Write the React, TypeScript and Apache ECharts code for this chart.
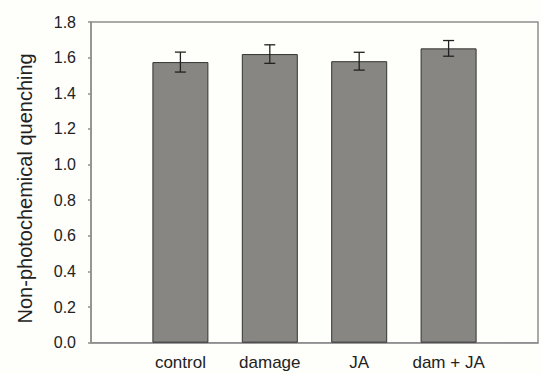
import React, { useEffect, useRef } from "react";
import * as echarts from "echarts";

// Treatments (empty slots at both ends pad the axis)
const categories = ["", "control", "damage", "JA", "dam + JA", ""];
// Mean non-photochemical quenching per treatment
const means = [null, 1.575, 1.62, 1.58, 1.652, null];
// Standard errors
const errors = [null, 0.056, 0.052, 0.05, 0.044, null];
const yTicks = { min: 0, max: 1.8, interval: 0.2 };

export default function App() {
  const ref = useRef<HTMLDivElement>(null);

  useEffect(() => {
    if (!ref.current) return;
    const chart = echarts.init(ref.current, null, { renderer: "svg" });

    const errData = means
      .map((m, i) => (m == null ? null : [i, m - (errors[i] as number), m + (errors[i] as number)]))
      .filter((d) => d !== null);

    chart.setOption({
      animation: false,
      backgroundColor: "#fefefb",
      grid: {
        left: 91,
        top: 22,
        width: 461.5,
        height: 320.7,
        show: true,
        borderColor: "#8f8f8f",
        borderWidth: 1.5,
        backgroundColor: "transparent",
      },
      xAxis: {
        type: "category",
        data: categories,
        boundaryGap: false,
        axisLine: { show: true, lineStyle: { color: "#8f8f8f", width: 1.5 } },
        axisTick: { show: false },
        axisLabel: {
          interval: 0,
          margin: 11,
          color: "#222",
          fontSize: 17,
          fontFamily: "Liberation Sans, Arial, sans-serif",
        },
        splitLine: { show: false },
      },
      yAxis: {
        type: "value",
        min: yTicks.min,
        max: yTicks.max,
        interval: yTicks.interval,
        name: "Non-photochemical quenching",
        nameLocation: "middle",
        nameGap: 56,
        nameTextStyle: {
          color: "#222",
          fontSize: 20,
          fontFamily: "Liberation Sans, Arial, sans-serif",
          padding: [0, 12, 0, 0],
        },
        axisLine: { show: true, lineStyle: { color: "#8f8f8f", width: 1.5 } },
        axisTick: { show: true, inside: false, length: 3, lineStyle: { color: "#8f8f8f", width: 1.5 } },
        axisLabel: {
          margin: 15,
          color: "#222",
          fontSize: 16,
          fontFamily: "Liberation Sans, Arial, sans-serif",
          formatter: (v: number) => v.toFixed(1),
        },
        splitLine: { show: false },
      },
      series: [
        {
          type: "bar",
          data: means,
          barWidth: 56,
          itemStyle: { color: "#878682", borderColor: "#333", borderWidth: 1 },
        },
        {
          type: "custom",
          data: errData,
          z: 10,
          renderItem: (params: any, api: any) => {
            const x = api.value(0);
            const lo = api.coord([x, api.value(1)]);
            const hi = api.coord([x, api.value(2)]);
            const half = 5.5;
            const style = { stroke: "#222", lineWidth: 1.3 };
            return {
              type: "group",
              children: [
                { type: "line", shape: { x1: hi[0], y1: hi[1], x2: lo[0], y2: lo[1] }, style },
                { type: "line", shape: { x1: hi[0] - half, y1: hi[1], x2: hi[0] + half, y2: hi[1] }, style },
                { type: "line", shape: { x1: lo[0] - half, y1: lo[1], x2: lo[0] + half, y2: lo[1] }, style },
              ],
            };
          },
        },
      ],
    });

    return () => chart.dispose();
  }, []);

  return (
    <div
      ref={ref}
      style={{ position: "fixed", left: 0, top: 0, width: 541, height: 374 }}
    />
  );
}
